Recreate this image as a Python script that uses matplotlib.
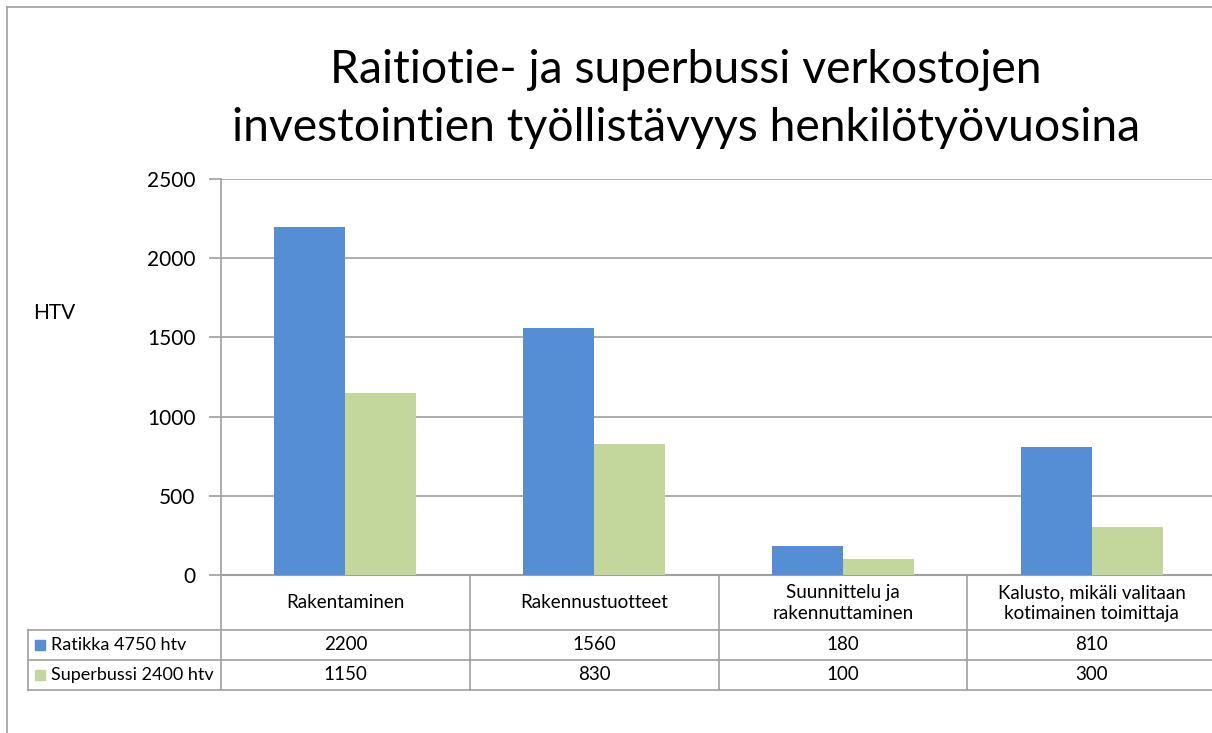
import matplotlib.pyplot as plt
import numpy as np

# Datos
kategoriat = ['Rakentaminen', 'Rakennustuotteet', 'Suunnittelu ja\nrakennuttaminen',
              'Kalusto, mikäli valitaan\nkotimainen toimittaja']
ratikka = [2200, 1560, 180, 810]
superbussi = [1150, 830, 100, 300]
sarjat = ['Ratikka 4750 htv', 'Superbussi 2400 htv']
yticks = [0, 500, 1000, 1500, 2000, 2500]

sininen = '#558ED5'
vihrea = '#C3D69B'
harmaa = '#A0A0A0'

plt.rcParams['font.family'] = ['Lato', 'DejaVu Sans']

W, H = 1212, 733
fig = plt.figure(figsize=(W / 100, H / 100), dpi=100)

def fx(px):
    return px / W

def fy(py):
    return 1 - py / H

# akselit (pikseleinä kuvasta)
x0, x1 = 221, 1216
y_top, y_zero = 179, 575
ax = fig.add_axes([fx(x0), fy(y_zero), fx(x1) - fx(x0), fy(y_top) - fy(y_zero)])

x = np.arange(len(kategoriat))
lev = 0.285
ax.bar(x - lev / 2, ratikka, lev, color=sininen, zorder=3)
ax.bar(x + lev / 2, superbussi, lev, color=vihrea, zorder=3)

ax.set_xlim(-0.5, len(kategoriat) - 0.5)
ax.set_ylim(0, 2500)
ax.set_yticks(yticks)
ax.tick_params(axis='y', labelsize=15, length=9, color=harmaa, width=1.2, pad=9.5)
ax.set_xticks([])
ax.grid(axis='y', color=harmaa, linewidth=1.2, zorder=0)
for s in ['top', 'right']:
    ax.spines[s].set_visible(False)
ax.spines['left'].set_color(harmaa)
ax.spines['left'].set_linewidth(1.2)
ax.spines['bottom'].set_color(harmaa)
ax.spines['bottom'].set_linewidth(1.5)

# otsikko
fig.text(fx(686), fy(70), 'Raitiotie- ja superbussi verkostojen', ha='center', va='center', fontsize=33.4)
fig.text(fx(686), fy(128), 'investointien työllistävyys henkilötyövuosina', ha='center', va='center', fontsize=33.4)

fig.text(fx(54), fy(313), 'HTV', ha='center', va='center', fontsize=15)

# taulukko
sarakkeet = [x0 + (x1 - x0) * i / len(kategoriat) for i in range(len(kategoriat) + 1)]
viivat = dict(color=harmaa, linewidth=1.2, transform=fig.transFigure)
# vaakaviivat
for yy in [630, 660, 690]:
    fig.add_artist(plt.Line2D([fx(28), fx(W)], [fy(yy), fy(yy)], **viivat))
fig.add_artist(plt.Line2D([fx(28), fx(28)], [fy(630), fy(690)], **viivat))
for c in sarakkeet:
    fig.add_artist(plt.Line2D([fx(c), fx(c)], [fy(575), fy(690)], **viivat))

fs = 13.5
for i, k in enumerate(kategoriat):
    cx = (sarakkeet[i] + sarakkeet[i + 1]) / 2
    fig.text(fx(cx), fy(603), k, ha='center', va='center', fontsize=fs, linespacing=1.25)
    fig.text(fx(cx), fy(645), str(ratikka[i]), ha='center', va='center', fontsize=fs)
    fig.text(fx(cx), fy(675), str(superbussi[i]), ha='center', va='center', fontsize=fs)

for r, (nimi, vari) in enumerate(zip(sarjat, [sininen, vihrea])):
    yc = 645 + 30 * r
    fig.add_artist(plt.Rectangle((fx(35), fy(yc + 5)), fx(10), fy(yc - 5) - fy(yc + 5),
                                 color=vari, transform=fig.transFigure))
    fig.text(fx(51), fy(yc), nimi, ha='left', va='center', fontsize=13)

# kehys
fig.add_artist(plt.Line2D([fx(7), fx(W)], [fy(7), fy(7)], color=harmaa, linewidth=1.2, transform=fig.transFigure))
fig.add_artist(plt.Line2D([fx(7), fx(7)], [fy(7), fy(H)], color=harmaa, linewidth=1.2, transform=fig.transFigure))

fig.savefig('out.png', dpi=100)
